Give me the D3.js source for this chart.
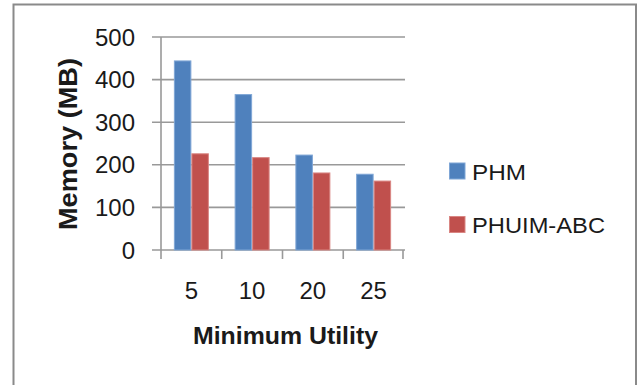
<!DOCTYPE html>
<html>
<head>
<meta charset="utf-8">
<script src="https://cdn.jsdelivr.net/npm/d3@7"></script>
<style>
  html, body { margin: 0; padding: 0; background: #fff; }
  svg { display: block; }
  text { font-family: "Liberation Sans", Arial, sans-serif; fill: #1a1a1a; }
</style>
</head>
<body>
<svg id="chart" width="641" height="385"></svg>
<script>
const categories = ["5", "10", "20", "25"];
const seriesNames = ["PHM", "PHUIM-ABC"];
const phmValues = [445, 366, 224, 179];
const phuimAbcValues = [227, 218, 182, 163];
const yTicks = [0, 100, 200, 300, 400, 500];
const colors = ["#4F81BD", "#C0504D"];
const strokeColors = ["#7fa6d6", "#d98683"];

const svg = d3.select("#chart");

// outer frame
svg.append("rect")
  .attr("x", 13.5).attr("y", 4.5)
  .attr("width", 622.5).attr("height", 400)
  .attr("fill", "#fff")
  .attr("stroke", "#8a8a8a").attr("stroke-width", 2);

const plotLeft = 161, plotRight = 404, plotTop = 37, plotBottom = 250;

const x0 = d3.scaleBand()
  .domain(categories)
  .range([plotLeft, plotRight])
  .paddingInner(0.424)
  .paddingOuter(0.212);

const x1 = d3.scaleBand()
  .domain(seriesNames)
  .range([0, x0.bandwidth()])
  .padding(0);

const y = d3.scaleLinear().domain([0, 500]).range([plotBottom, plotTop]);

// gridlines (with outward tick marks)
svg.append("g")
  .selectAll("line")
  .data(yTicks)
  .join("line")
  .attr("x1", plotLeft - 9).attr("x2", plotRight + 1)
  .attr("y1", d => y(d)).attr("y2", d => y(d))
  .attr("stroke", "#999").attr("stroke-width", 1.6);

// y axis line
svg.append("line")
  .attr("x1", plotLeft).attr("x2", plotLeft)
  .attr("y1", plotTop).attr("y2", plotBottom)
  .attr("stroke", "#999").attr("stroke-width", 1.6);

// category tick marks
const step = x0.step();
const tickXs = categories.map((c, i) => plotLeft + i * step).concat([plotRight - 1]);
svg.append("g")
  .selectAll("line")
  .data(tickXs)
  .join("line")
  .attr("x1", d => d).attr("x2", d => d)
  .attr("y1", plotBottom).attr("y2", plotBottom + 9)
  .attr("stroke", "#999").attr("stroke-width", 1.6);

// bars
const data = categories.map((c, i) => ({ cat: c, vals: [phmValues[i], phuimAbcValues[i]] }));
const groups = svg.append("g")
  .selectAll("g")
  .data(data)
  .join("g")
  .attr("transform", d => `translate(${x0(d.cat)},0)`);

groups.selectAll("rect")
  .data(d => d.vals.map((v, j) => ({ name: seriesNames[j], v, j })))
  .join("rect")
  .attr("x", d => x1(d.name) + 0.5)
  .attr("width", x1.bandwidth() - 1)
  .attr("y", d => y(d.v) + 0.5)
  .attr("height", d => plotBottom - y(d.v) - 0.5)
  .attr("fill", d => colors[d.j])
  .attr("stroke", d => strokeColors[d.j])
  .attr("stroke-width", 1);

// y tick labels
svg.append("g")
  .selectAll("text")
  .data(yTicks)
  .join("text")
  .attr("x", 135).attr("y", d => y(d))
  .attr("dy", "0.36em")
  .attr("text-anchor", "end")
  .attr("font-size", 24)
  .text(d => d);

// x tick labels
svg.append("g")
  .selectAll("text")
  .data(categories)
  .join("text")
  .attr("x", d => x0(d) + x0.bandwidth() / 2)
  .attr("y", 298.5)
  .attr("text-anchor", "middle")
  .attr("font-size", 24)
  .text(d => d);

// axis titles
svg.append("text")
  .attr("transform", "translate(77,144) rotate(-90)")
  .attr("text-anchor", "middle")
  .attr("font-size", 25)
  .attr("font-weight", "bold")
  .attr("textLength", 172)
  .attr("lengthAdjust", "spacingAndGlyphs")
  .text("Memory (MB)");

svg.append("text")
  .attr("x", 285.5).attr("y", 343.5)
  .attr("text-anchor", "middle")
  .attr("font-size", 24)
  .attr("font-weight", "bold")
  .attr("textLength", 185)
  .attr("lengthAdjust", "spacingAndGlyphs")
  .text("Minimum Utility");

// legend
const legendTops = [163, 216.5];
const legendTextW = [54, 133];
const legend = svg.append("g")
  .selectAll("g")
  .data(seriesNames)
  .join("g");
legend.append("rect")
  .attr("x", 449.5)
  .attr("y", (d, i) => legendTops[i])
  .attr("width", 15.5).attr("height", 16)
  .attr("fill", (d, i) => colors[i])
  .attr("stroke", (d, i) => strokeColors[i])
  .attr("stroke-width", 1);
legend.append("text")
  .attr("x", 472)
  .attr("y", (d, i) => legendTops[i] + 16.5)
  .attr("font-size", 22)
  .attr("textLength", (d, i) => legendTextW[i])
  .attr("lengthAdjust", "spacingAndGlyphs")
  .text(d => d);
</script>
</body>
</html>
